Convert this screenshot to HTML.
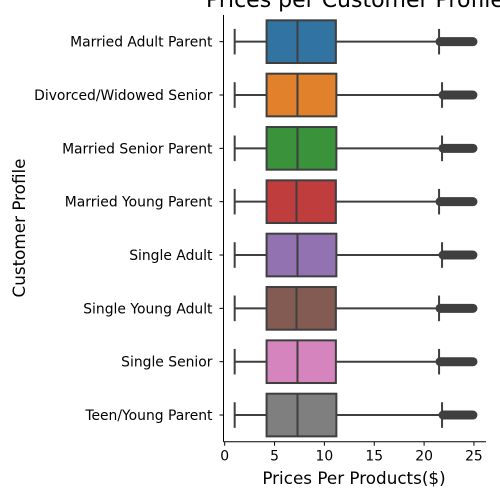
<!DOCTYPE html>
<html><head><meta charset="utf-8"><style>body{margin:0;background:#fff}svg{display:block}text{font-family:"DejaVu Sans","Liberation Sans",sans-serif;fill:#000}</style></head>
<body>
<svg id="chart" width="500" height="500" viewBox="0 0 500 500">
<text x="355" y="7" font-size="22" text-anchor="middle">Prices per Customer Profile</text>
<g id="plot"></g>
<text x="354" y="484" font-size="16.8" text-anchor="middle">Prices Per Products($)</text>
<text transform="translate(25,228) rotate(-90)" font-size="16.8" text-anchor="middle">Customer Profile</text>
</svg>
<script>
const categories=["Married Adult Parent","Divorced/Widowed Senior","Married Senior Parent","Married Young Parent","Single Adult","Single Young Adult","Single Senior","Teen/Young Parent"];
const whiskerLow=[1,1,1,1,1,1,1,1];
const q1=[4.2,4.2,4.2,4.2,4.2,4.2,4.2,4.2];
const median=[7.3,7.3,7.3,7.2,7.3,7.2,7.3,7.3];
const q3=[11.15,11.2,11.2,11.15,11.2,11.15,11.15,11.2];
const whiskerHigh=[21.5,21.8,21.8,21.5,21.8,21.5,21.5,21.8];
const outlierMax=[24.9,24.9,24.9,24.9,24.9,24.9,24.9,24.9];
const colors=["#3274a1","#e1812c","#3a923a","#c03d3e","#9372b2","#845b53","#d684bd","#7f7f7f"];
const xTicks=[0,5,10,15,20,25];
const NS="http://www.w3.org/2000/svg";
const g=document.getElementById('plot');
const L=223.5,R=486,T=15,B=441.7;
const x=v=>224.7+v*9.97;
const band=(B-T)/categories.length;
const y=i=>T+band*(i+0.5);
function mk(t,a,p){const e=document.createElementNS(NS,t);for(const k in a)e.setAttribute(k,a[k]);(p||g).appendChild(e);return e;}
const ec="#3f3f3f",sw=2;
categories.forEach((c,i)=>{
 const cy=y(i),h=band*0.8,bw=band*0.8*0.3;
 const grp=mk('g',{});
 
 
 mk('line',{x1:x(whiskerLow[i]),x2:x(q1[i]),y1:cy,y2:cy,stroke:ec,'stroke-width':sw},grp);
 mk('line',{x1:x(q3[i]),x2:x(whiskerHigh[i]),y1:cy,y2:cy,stroke:ec,'stroke-width':sw},grp);
 mk('line',{x1:x(whiskerLow[i]),x2:x(whiskerLow[i]),y1:cy-bw,y2:cy+bw,stroke:ec,'stroke-width':sw},grp);
 mk('line',{x1:x(whiskerHigh[i]),x2:x(whiskerHigh[i]),y1:cy-bw,y2:cy+bw,stroke:ec,'stroke-width':sw},grp);
 mk('rect',{x:x(q1[i]),y:cy-h/2,width:x(q3[i])-x(q1[i]),height:h,fill:colors[i],stroke:ec,'stroke-width':sw},grp);
 mk('line',{x1:x(median[i]),x2:x(median[i]),y1:cy-h/2,y2:cy+h/2,stroke:ec,'stroke-width':sw},grp);
 const o=mk('line',{x1:x(whiskerHigh[i])+1,x2:x(outlierMax[i]),y1:cy,y2:cy,stroke:ec,'stroke-width':9,'stroke-linecap':'round'},grp);
 
 
 const t=mk('text',{x:L-11,y:cy+5,'font-size':13.9,'text-anchor':'end'});
 t.textContent=c;
 
 
 mk('line',{x1:L-4,x2:L,y1:cy,y2:cy,stroke:'#000','stroke-width':1});
});
xTicks.forEach(v=>{
 mk('line',{x1:x(v),x2:x(v),y1:B,y2:B+4,stroke:'#000','stroke-width':1});
 const t=mk('text',{x:x(v),y:B+19,'font-size':13.9,'text-anchor':'middle'});
 t.textContent=v;
 
 
});
const ya=mk('line',{x1:L,x2:L,y1:T,y2:B,stroke:'#000','stroke-width':1});


const xa=mk('line',{x1:L,x2:R,y1:B,y2:B,stroke:'#000','stroke-width':1});


</script>
</body></html>
